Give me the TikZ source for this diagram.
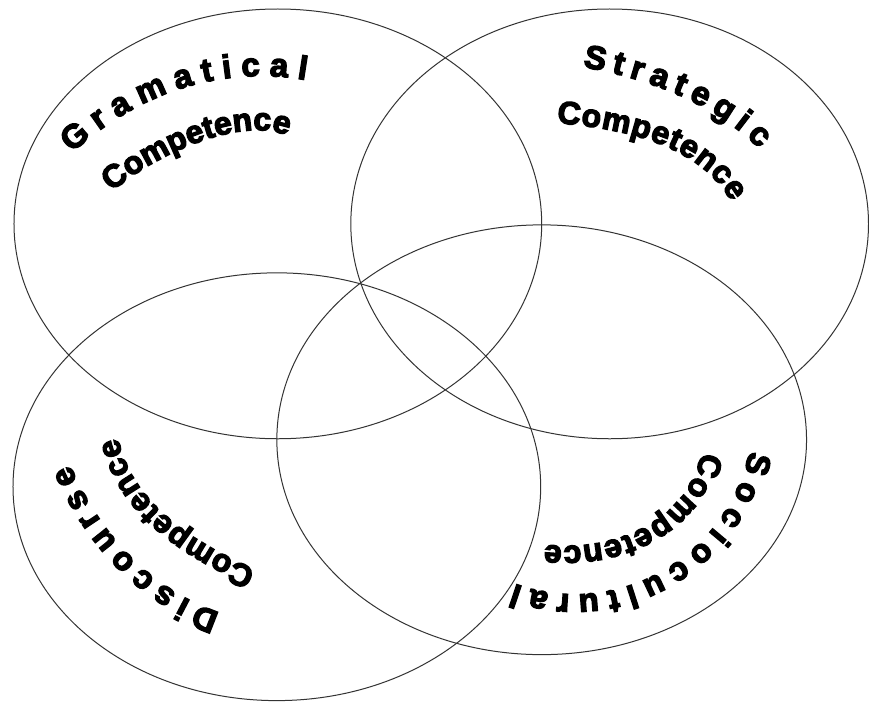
\documentclass[tikz,border=0pt]{standalone}
\usepackage{fontspec}
\usetikzlibrary{decorations.text}
\newfontfamily\arcfont[BoldFeatures={FakeBold=4}]{Liberation Sans}
\newcommand{\outerfont}{\arcfont\bfseries\fontsize{33}{33}\selectfont}
\newcommand{\innerfont}{\arcfont\bfseries\fontsize{32}{32}\selectfont}
\tikzset{
  ring/.style={draw=black!80, line width=1pt},
  arclabel/.style={decorate, decoration={text along path, text align=fit to path, text={#1}}}
}
\begin{document}
\begin{tikzpicture}[x=1pt, y=-1pt]
\path[fill=white] (0,0) rectangle (869,702);
\coordinate (gram) at (278,224);
\coordinate (strat) at (610,224);
\coordinate (disc) at (277,487);
\coordinate (socio) at (542,440);
\draw[ring] (gram) ellipse [x radius=264, y radius=215];
\draw[ring] (strat) ellipse [x radius=259, y radius=215];
\draw[ring] (disc) ellipse [x radius=264, y radius=214];
\draw[ring] (socio) ellipse [x radius=265, y radius=215];
\path[arclabel={|\outerfont|Gramatical}] (72,153) .. controls (137,94) and (219,65) .. (306,80);
\path[arclabel={|\innerfont|Competence}] (112,192) .. controls (150,158) and (237,116) .. (286,135);
\path[arclabel={|\outerfont|Strategic}] (583,67) .. controls (647,78) and (714,103) .. (760,149);
\path[arclabel={|\innerfont|Competence}] (557,123) .. controls (624,129) and (699,144) .. (732,202);
\path[arclabel={|\outerfont|Discourse}] (220,613) .. controls (150,590) and (99,533) .. (70,465);
\path[arclabel={|\innerfont|Competence}] (256,570) .. controls (194,543) and (132,504) .. (118,438);
\path[arclabel={|\outerfont|Sociocultural}] (750,451) .. controls (728,558) and (617,621) .. (515,584);
\path[arclabel={|\innerfont|Competence}] (702,452) .. controls (689,521) and (615,553) .. (545,545);
\end{tikzpicture}
\end{document}
